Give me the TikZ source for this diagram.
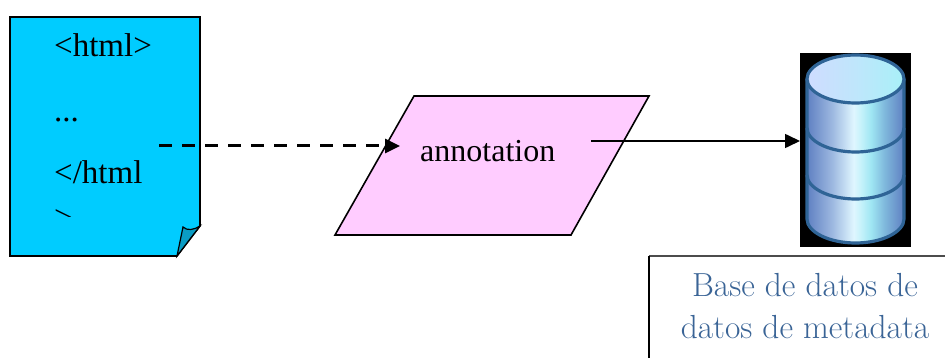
\documentclass[tikz,border=0pt]{standalone}
\usepackage{fontspec}
\newfontfamily\bodyfont{Liberation Serif}
\usetikzlibrary{arrows.meta}
\definecolor{docblue}{HTML}{00CCFF}
\definecolor{foldblue}{HTML}{0A9CC4}
\definecolor{parapink}{HTML}{FFCCFF}
\definecolor{cyledge}{HTML}{2F6496}
\definecolor{captxt}{HTML}{3A6496}
\definecolor{cbA}{HTML}{5F80C2}
\definecolor{cbB}{HTML}{9DB8E0}
\definecolor{cbC}{HTML}{DFF6FF}
\definecolor{cbD}{HTML}{C4F2FA}
\definecolor{cbE}{HTML}{9FE6F3}
\definecolor{cbF}{HTML}{7FB8DC}
\definecolor{ctA}{HTML}{CFDCFF}
\definecolor{ctB}{HTML}{BFE6FB}
\definecolor{ctC}{HTML}{A8F0F8}
\pgfdeclarehorizontalshading{cylbody}{100bp}{
  color(0bp)=(cbA);color(25bp)=(cbA);color(38bp)=(cbB);color(49bp)=(cbC);
  color(53bp)=(cbD);color(58bp)=(cbE);color(65bp)=(cbF);color(75bp)=(cbA);color(100bp)=(cbA)}
\pgfdeclarehorizontalshading{cyltop}{100bp}{
  color(0bp)=(ctA);color(25bp)=(ctA);color(50bp)=(ctB);color(75bp)=(ctC);color(100bp)=(ctC)}
\tikzset{
  doctext/.style={anchor=base west,inner sep=0pt,font=\bodyfont\fontsize{33}{33}\selectfont},
  outlined/.style={draw=black,line width=1.6pt,line join=miter},
  conn/.style={-{Triangle[length=15pt,width=14pt]},black},
  cylline/.style={draw=cyledge,line width=3.2pt},
  captext/.style={anchor=base,inner sep=0pt,text=captxt,font=\fontsize{33.4}{33.4}\selectfont},
}
\begin{document}
\begin{tikzpicture}[x=1pt,y=-1pt]
\useasboundingbox (0,0) rectangle (945,358);
% document
\path[outlined,fill=docblue] (10,17) -- (200,17) -- (200,226) -- (177,256) -- (10,256) -- cycle;
\path[outlined,fill=foldblue,line width=1.2pt] (177,256) -- (183,227) .. controls (187,231) and (194,230) .. (200,226) -- cycle;
\node[doctext] (open) at (54,57) {<html>};
\node[doctext] (dots) at (54,122) {...};
\node[doctext] (close) at (54,184) {</html};
\begin{scope}
\clip (40,190) rectangle (120,217);
\node[doctext] (gt) at (54,229) {>};
\end{scope}
% parallelogram
\path[outlined,fill=parapink] (414,96) -- (649,96) -- (571,235) -- (335,235) -- cycle;
\node[doctext] (ann) at (420,162) {\fontsize{32}{32}\selectfont annotation};
% cylinder
\fill[black] (800,53) rectangle (911,247);
\shade[shading=cylbody] (807,79) -- (807,219) .. controls (807,232) and (829,243) .. (855.5,243) .. controls (882,243) and (904,232) .. (904,219) -- (904,79) -- cycle;
\path[cylline] (807,79) -- (807,219) .. controls (807,232) and (829,243) .. (855.5,243) .. controls (882,243) and (904,232) .. (904,219) -- (904,79);
\path[cylline] (807,128) .. controls (807,141) and (829,152) .. (855.5,152) .. controls (882,152) and (904,141) .. (904,128);
\path[cylline] (807,175) .. controls (807,188) and (829,199) .. (855.5,199) .. controls (882,199) and (904,188) .. (904,175);
\shade[shading=cyltop] (807,79) .. controls (807,66) and (829,55) .. (855.5,55) .. controls (882,55) and (904,66) .. (904,79) .. controls (904,92) and (882,103) .. (855.5,103) .. controls (829,103) and (807,92) .. (807,79) -- cycle;
\path[cylline] (807,79) .. controls (807,66) and (829,55) .. (855.5,55) .. controls (882,55) and (904,66) .. (904,79) .. controls (904,92) and (882,103) .. (855.5,103) .. controls (829,103) and (807,92) .. (807,79) -- cycle;
% connectors
\coordinate (dashstart) at (159,146);
\coordinate (dashend) at (400,146);
\coordinate (solidstart) at (591,141);
\coordinate (solidend) at (800,141);
\draw[conn,line width=3pt,dash pattern=on 13pt off 10pt] (dashstart) -- (dashend);
\draw[conn,line width=1.6pt] (solidstart) -- (solidend);
% caption box
\draw[draw=black!70,line width=1.6pt] (649,256) -- (945,256);
\draw[draw=black,line width=1.4pt] (649,256) -- (649,358);
\node[captext] (cap1) at (805,296) {Base de datos de};
\node[captext] (cap2) at (805,338) {datos de metadata};
\end{tikzpicture}
\end{document}
